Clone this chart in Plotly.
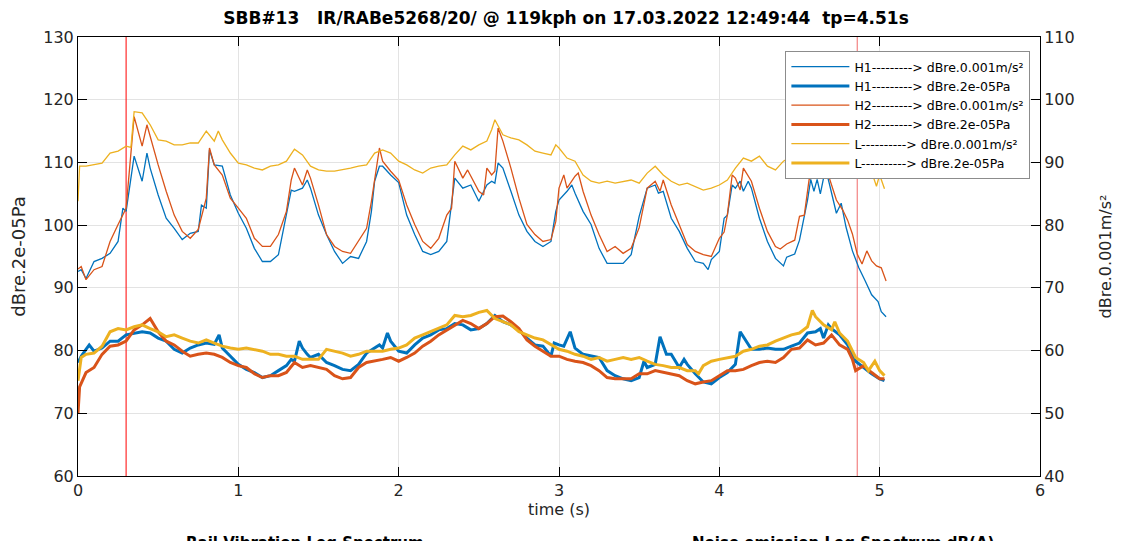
import plotly.graph_objects as go

# time (s) and levels
# thin lines -> right axis (dBre.0.001m/s²), thick lines -> left axis (dBre.2e-05Pa)
t_h1_acc = [0, 0.02, 0.05, 0.1, 0.15, 0.2, 0.25, 0.28, 0.3, 0.35, 0.4, 0.43, 0.45, 0.5, 0.55, 0.6, 0.65, 0.7,
            0.75, 0.77, 0.8, 0.82, 0.85, 0.9, 0.95, 1.0, 1.05, 1.1, 1.15, 1.2, 1.25, 1.3, 1.33, 1.35, 1.4, 1.43,
            1.45, 1.5, 1.55, 1.6, 1.65, 1.7, 1.75, 1.8, 1.83, 1.85, 1.88, 1.9, 1.95, 2.0, 2.05, 2.1, 2.15, 2.2,
            2.25, 2.3, 2.35, 2.4, 2.45, 2.5, 2.55, 2.58, 2.6, 2.62, 2.65, 2.7, 2.75, 2.8, 2.85, 2.9, 2.95, 2.98,
            3.0, 3.05, 3.08, 3.1, 3.15, 3.2, 3.25, 3.3, 3.35, 3.4, 3.45, 3.5, 3.55, 3.6, 3.62, 3.65, 3.7, 3.75,
            3.8, 3.85, 3.9, 3.93, 3.95, 4.0, 4.03, 4.05, 4.08, 4.1, 4.13, 4.15, 4.18, 4.2, 4.25, 4.3, 4.35, 4.4,
            4.42, 4.47, 4.5, 4.53, 4.55, 4.57, 4.59, 4.61, 4.63, 4.65, 4.67, 4.69, 4.73, 4.76, 4.79, 4.83, 4.87,
            4.91, 4.95, 4.99, 5.01, 5.04]
h1_acc = [72.6, 72.9, 71.5, 74.2, 74.7, 75.5, 77.4, 82.7, 82.2, 91.0, 87.0, 91.5, 89.1, 84.8, 81.1, 79.5, 77.7,
          78.7, 79.0, 83.2, 82.7, 92.0, 89.6, 89.4, 84.8, 81.9, 79.5, 76.3, 74.2, 74.2, 75.3, 81.6, 85.6, 85.4,
          85.9, 87.2, 85.9, 81.6, 78.5, 75.8, 73.9, 75.0, 74.7, 77.4, 82.2, 87.0, 89.4, 89.4, 88.0, 86.8, 81.6,
          78.5, 75.8, 75.3, 75.8, 77.4, 87.5, 85.9, 86.4, 83.8, 86.4, 87.0, 86.7, 89.9, 89.1, 85.4, 81.6, 79.0,
          77.4, 76.6, 77.4, 82.2, 84.0, 85.4, 86.4, 85.1, 82.2, 80.1, 76.3, 73.9, 73.9, 73.9, 75.3, 81.4, 85.9,
          86.4, 85.1, 85.4, 81.1, 79.0, 76.3, 74.2, 73.9, 72.9, 74.5, 75.8, 81.1, 81.6, 86.4, 85.9, 87.0, 85.4,
          87.0, 85.9, 81.1, 77.4, 74.7, 73.5, 74.9, 75.4, 77.6, 81.4, 84.0, 87.3, 85.4, 87.3, 85.0, 87.5, 88.3,
          86.2, 81.9, 83.5, 79.7, 75.9, 73.2, 71.1, 68.9, 67.8, 66.2, 65.4]

t_h1_pa = [0, 0.02, 0.05, 0.07, 0.1, 0.15, 0.2, 0.25, 0.3, 0.35, 0.4, 0.45, 0.5, 0.55, 0.6, 0.65, 0.7, 0.75,
           0.8, 0.85, 0.88, 0.9, 0.95, 1.0, 1.05, 1.1, 1.15, 1.2, 1.25, 1.3, 1.33, 1.35, 1.38, 1.4, 1.43, 1.45,
           1.5, 1.55, 1.6, 1.65, 1.7, 1.75, 1.8, 1.85, 1.88, 1.9, 1.93, 1.95, 2.0, 2.05, 2.1, 2.15, 2.2, 2.25,
           2.3, 2.35, 2.4, 2.45, 2.5, 2.55, 2.6, 2.65, 2.7, 2.75, 2.8, 2.85, 2.9, 2.95, 2.97, 3.0, 3.03, 3.07,
           3.1, 3.15, 3.2, 3.25, 3.3, 3.35, 3.4, 3.45, 3.5, 3.53, 3.55, 3.6, 3.63, 3.67, 3.7, 3.75, 3.78, 3.8,
           3.85, 3.9, 3.95, 4.0, 4.05, 4.1, 4.13, 4.17, 4.2, 4.25, 4.3, 4.35, 4.4, 4.45, 4.5, 4.55, 4.6, 4.63,
           4.65, 4.68, 4.7, 4.75, 4.8, 4.85, 4.9, 4.95, 5.0, 5.03]
h1_pa = [78.1, 79.1, 80.2, 80.9, 79.9, 80.4, 81.5, 81.5, 82.5, 82.8, 83.0, 82.8, 82.0, 81.5, 80.2, 79.6, 80.4,
         80.9, 81.2, 81.0, 82.5, 80.4, 79.1, 77.8, 77.0, 76.5, 75.7, 76.0, 76.8, 77.6, 78.6, 78.3, 81.5, 80.4,
         79.4, 78.9, 79.4, 78.1, 77.6, 77.0, 76.8, 77.8, 79.6, 80.4, 80.9, 80.4, 82.8, 81.5, 79.9, 79.6, 80.9,
         82.0, 82.5, 83.3, 83.5, 84.3, 84.1, 83.3, 83.5, 84.3, 85.6, 84.6, 84.1, 83.3, 82.0, 80.9, 80.7, 79.1,
         81.2, 80.9, 80.7, 83.0, 80.4, 79.4, 79.1, 78.9, 76.8, 76.0, 75.5, 75.2, 75.7, 78.3, 77.3, 77.8, 82.2,
         79.4, 79.4, 77.3, 78.6, 77.8, 76.3, 75.0, 74.7, 75.7, 76.5, 77.8, 83.0, 81.5, 80.2, 80.2, 80.4, 80.2,
         80.2, 80.7, 81.2, 82.8, 83.0, 83.5, 82.0, 84.1, 83.5, 82.5, 80.9, 78.3, 77.3, 76.3, 75.5, 75.2]

t_h2_acc = [0, 0.02, 0.05, 0.1, 0.15, 0.2, 0.25, 0.3, 0.35, 0.4, 0.43, 0.45, 0.5, 0.55, 0.6, 0.65, 0.7, 0.75,
            0.8, 0.82, 0.85, 0.9, 0.95, 1.0, 1.05, 1.1, 1.15, 1.2, 1.25, 1.3, 1.33, 1.35, 1.4, 1.43, 1.45, 1.5,
            1.55, 1.6, 1.65, 1.7, 1.75, 1.8, 1.83, 1.85, 1.88, 1.9, 1.95, 2.0, 2.05, 2.1, 2.15, 2.2, 2.25, 2.3,
            2.33, 2.35, 2.4, 2.43, 2.45, 2.5, 2.53, 2.55, 2.58, 2.6, 2.62, 2.65, 2.7, 2.75, 2.8, 2.85, 2.9, 2.95,
            2.98, 3.0, 3.03, 3.05, 3.1, 3.12, 3.15, 3.2, 3.25, 3.3, 3.35, 3.4, 3.45, 3.5, 3.55, 3.6, 3.63, 3.65,
            3.7, 3.75, 3.8, 3.85, 3.9, 3.95, 4.0, 4.03, 4.05, 4.08, 4.1, 4.13, 4.15, 4.2, 4.25, 4.3, 4.35, 4.38,
            4.42, 4.47, 4.5, 4.53, 4.56, 4.6, 4.63, 4.67, 4.7, 4.73, 4.77, 4.8, 4.83, 4.86, 4.89, 4.92, 4.95,
            4.98, 5.01, 5.04]
h2_acc = [73.0, 73.4, 71.3, 72.9, 73.4, 77.4, 80.1, 82.7, 97.3, 92.6, 96.0, 94.1, 89.6, 85.4, 81.6, 79.0, 77.9,
          79.3, 84.3, 92.3, 89.6, 88.0, 84.3, 82.7, 81.1, 77.9, 76.6, 76.6, 78.5, 82.2, 87.2, 89.1, 86.4, 88.8,
          87.5, 83.2, 78.5, 76.6, 75.8, 75.5, 77.4, 79.5, 83.8, 87.0, 92.3, 90.2, 88.6, 87.2, 83.2, 80.1, 77.4,
          76.3, 77.9, 81.6, 82.7, 90.2, 87.5, 88.8, 87.8, 85.4, 84.8, 89.1, 88.0, 88.6, 95.5, 93.4, 89.1, 84.3,
          80.1, 78.5, 77.4, 77.7, 80.6, 85.9, 88.0, 85.9, 87.8, 88.3, 85.4, 81.6, 78.5, 75.8, 76.6, 75.5, 76.3,
          79.6, 85.9, 87.0, 85.4, 87.2, 83.2, 80.1, 76.9, 75.8, 75.3, 75.0, 77.9, 78.9, 81.6, 88.0, 87.5, 85.6,
          89.1, 87.0, 82.7, 79.0, 76.6, 76.2, 77.0, 77.6, 81.4, 81.6, 87.3, 88.0, 89.0, 88.8, 86.2, 84.0, 82.4,
          80.8, 78.6, 75.4, 73.8, 75.9, 74.3, 73.5, 73.2, 71.1]

t_h2_pa = [0, 0.01, 0.05, 0.1, 0.15, 0.2, 0.25, 0.3, 0.35, 0.4, 0.45, 0.5, 0.55, 0.6, 0.65, 0.7, 0.75, 0.8,
           0.85, 0.9, 0.95, 1.0, 1.05, 1.1, 1.15, 1.2, 1.25, 1.3, 1.35, 1.4, 1.45, 1.5, 1.55, 1.6, 1.65, 1.7,
           1.75, 1.8, 1.85, 1.9, 1.95, 2.0, 2.05, 2.1, 2.15, 2.2, 2.25, 2.3, 2.35, 2.4, 2.45, 2.5, 2.55, 2.6,
           2.65, 2.7, 2.75, 2.8, 2.85, 2.9, 2.95, 3.0, 3.05, 3.1, 3.15, 3.2, 3.25, 3.3, 3.35, 3.4, 3.45, 3.5,
           3.55, 3.6, 3.65, 3.7, 3.75, 3.8, 3.85, 3.9, 3.95, 4.0, 4.05, 4.1, 4.15, 4.2, 4.25, 4.3, 4.35, 4.4,
           4.45, 4.5, 4.55, 4.6, 4.65, 4.7, 4.75, 4.8, 4.83, 4.85, 4.9, 4.95, 5.0, 5.03]
h2_pa = [70.0, 74.2, 76.5, 77.3, 79.4, 80.7, 80.9, 81.5, 83.3, 84.1, 85.1, 83.0, 81.5, 80.9, 79.9, 79.1, 79.4,
         79.6, 79.4, 78.9, 78.1, 77.6, 77.3, 76.3, 75.7, 76.0, 76.0, 76.5, 78.1, 77.3, 77.6, 77.3, 77.0, 76.0,
         75.5, 75.7, 77.3, 78.1, 78.3, 78.6, 78.9, 78.3, 78.9, 79.6, 80.7, 81.5, 82.5, 83.3, 84.1, 84.8, 84.3,
         83.5, 84.3, 85.4, 85.5, 84.6, 83.5, 81.7, 80.7, 79.9, 79.1, 79.1, 78.6, 78.3, 78.1, 77.6, 76.8, 75.7,
         75.5, 75.5, 75.5, 76.3, 76.3, 76.8, 76.5, 76.3, 76.0, 75.2, 74.7, 75.0, 75.2, 76.0, 76.8, 76.8, 77.0,
         77.6, 78.1, 78.3, 78.1, 78.9, 80.2, 80.4, 81.7, 80.9, 81.2, 82.5, 80.9, 80.2, 78.6, 76.8, 77.6, 76.5,
         75.5, 75.5]

t_l_acc = [0, 0.01, 0.05, 0.1, 0.15, 0.2, 0.25, 0.3, 0.33, 0.35, 0.4, 0.45, 0.5, 0.55, 0.6, 0.65, 0.7, 0.75,
           0.8, 0.85, 0.875, 0.9, 0.95, 1.0, 1.05, 1.1, 1.15, 1.2, 1.25, 1.3, 1.35, 1.4, 1.45, 1.5, 1.55, 1.6,
           1.65, 1.7, 1.75, 1.8, 1.85, 1.9, 1.95, 2.0, 2.05, 2.1, 2.15, 2.2, 2.25, 2.3, 2.35, 2.4, 2.45, 2.5,
           2.55, 2.58, 2.6, 2.65, 2.7, 2.75, 2.8, 2.85, 2.9, 2.95, 2.98, 3.0, 3.05, 3.1, 3.15, 3.2, 3.25, 3.3,
           3.35, 3.4, 3.45, 3.5, 3.55, 3.6, 3.65, 3.7, 3.75, 3.8, 3.85, 3.9, 3.95, 4.0, 4.05, 4.1, 4.15, 4.2,
           4.25, 4.3, 4.35, 4.4, 4.45, 4.5, 4.55, 4.6, 4.65, 4.7, 4.75, 4.8, 4.85, 4.9, 4.93, 4.95, 4.98, 5.0,
           5.03]
l_acc = [83.8, 89.4, 89.4, 89.6, 89.9, 91.5, 91.8, 92.6, 92.4, 98.1, 97.9, 96.0, 93.6, 93.4, 92.8, 92.8, 93.1,
         93.1, 95.0, 93.4, 95.0, 93.6, 91.5, 89.9, 89.6, 89.1, 88.8, 89.4, 89.6, 90.2, 92.1, 91.2, 89.4, 88.8,
         88.6, 88.6, 88.8, 89.1, 89.4, 89.6, 91.5, 92.0, 91.5, 90.2, 89.6, 88.8, 88.3, 89.1, 89.4, 89.6, 91.2,
         92.6, 92.0, 92.8, 93.4, 95.2, 96.8, 94.4, 93.9, 93.6, 92.8, 91.8, 91.5, 91.2, 92.8, 92.3, 90.7, 90.2,
         88.0, 87.0, 86.7, 87.0, 86.7, 87.0, 87.2, 86.7, 88.3, 89.4, 88.0, 87.0, 86.4, 86.7, 86.2, 85.6, 85.9,
         86.4, 87.2, 89.1, 90.7, 90.2, 91.0, 89.4, 88.8, 90.2, 91.0, 90.5, 91.5, 90.8, 91.5, 91.0, 90.5, 90.8,
         90.5, 89.5, 87.5, 88.5, 86.2, 88.0, 85.8]

t_l_pa = [0, 0.02, 0.05, 0.1, 0.15, 0.2, 0.25, 0.3, 0.35, 0.4, 0.45, 0.5, 0.55, 0.6, 0.65, 0.7, 0.75, 0.8,
          0.85, 0.9, 0.95, 1.0, 1.05, 1.1, 1.15, 1.2, 1.25, 1.3, 1.35, 1.4, 1.45, 1.5, 1.55, 1.6, 1.65, 1.7,
          1.75, 1.8, 1.85, 1.9, 1.95, 2.0, 2.05, 2.1, 2.15, 2.2, 2.25, 2.3, 2.35, 2.4, 2.45, 2.5, 2.55, 2.6,
          2.65, 2.7, 2.75, 2.8, 2.85, 2.9, 2.95, 3.0, 3.05, 3.1, 3.15, 3.2, 3.25, 3.3, 3.35, 3.4, 3.45, 3.5,
          3.55, 3.6, 3.65, 3.7, 3.75, 3.8, 3.85, 3.87, 3.9, 3.95, 4.0, 4.05, 4.1, 4.15, 4.2, 4.25, 4.3, 4.35,
          4.4, 4.45, 4.5, 4.55, 4.58, 4.6, 4.65, 4.7, 4.72, 4.75, 4.8, 4.85, 4.9, 4.93, 4.97, 5.0, 5.03]
l_pa = [75.2, 78.9, 79.4, 79.6, 80.7, 83.0, 83.5, 83.3, 83.8, 84.1, 83.5, 83.0, 82.2, 82.5, 82.0, 81.5, 81.2,
        81.7, 81.2, 80.7, 80.4, 80.2, 80.4, 80.2, 79.9, 79.4, 79.4, 79.1, 79.1, 78.6, 78.6, 78.6, 80.2, 79.9,
        79.6, 79.1, 79.4, 79.9, 79.9, 79.9, 80.2, 80.4, 80.9, 82.0, 82.5, 83.0, 83.5, 84.1, 85.6, 85.4, 85.6,
        86.1, 86.4, 85.1, 84.6, 84.1, 83.0, 82.5, 82.0, 81.7, 80.9, 80.2, 79.9, 79.4, 79.1, 78.6, 78.9, 78.3,
        78.6, 78.9, 78.6, 78.9, 78.3, 77.8, 77.6, 77.3, 77.3, 76.8, 76.8, 76.3, 77.6, 78.3, 78.6, 78.9, 79.1,
        79.9, 80.2, 80.7, 80.9, 81.5, 82.0, 82.5, 82.8, 83.8, 86.4, 85.4, 84.1, 83.3, 84.6, 82.8, 81.5, 78.9,
        78.1, 76.8, 78.3, 76.8, 76.0]

markers_t = [0.30, 4.86]
marker_colors = ["#ff0000", "#f06a6a"]

x_ticks = [0, 1, 2, 3, 4, 5, 6]
left_ticks = [60, 70, 80, 90, 100, 110, 120, 130]
right_ticks = [40, 50, 60, 70, 80, 90, 100, 110]

BLUE = "#0072bd"
ORANGE = "#d95319"
YELLOW = "#edb120"
FONT = "DejaVu Sans, Arial, sans-serif"

fig = go.Figure()

for t, color in zip(markers_t, marker_colors):
    fig.add_trace(go.Scatter(x=[t, t], y=[left_ticks[0], left_ticks[-1]], mode="lines",
                             line=dict(color=color, width=1), showlegend=False, hoverinfo="skip"))

series = [
    (t_h1_acc, h1_acc, BLUE, 1.3, "y2", "H1---------> dBre.0.001m/s²"),
    (t_h1_pa, h1_pa, BLUE, 3, "y", "H1---------> dBre.2e-05Pa"),
    (t_h2_acc, h2_acc, ORANGE, 1.3, "y2", "H2---------> dBre.0.001m/s²"),
    (t_h2_pa, h2_pa, ORANGE, 3, "y", "H2---------> dBre.2e-05Pa"),
    (t_l_acc, l_acc, YELLOW, 1.3, "y2", "L----------> dBre.0.001m/s²"),
    (t_l_pa, l_pa, YELLOW, 3, "y", "L----------> dBre.2e-05Pa"),
]
for t, v, color, w, axis, name in series:
    fig.add_trace(go.Scatter(x=t, y=v, mode="lines", name=name, yaxis=axis,
                             line=dict(color=color, width=w)))

axis_common = dict(
    showline=True, linecolor="black", linewidth=1,
    ticks="inside", ticklen=9, tickcolor="black",
    tickfont=dict(family=FONT, size=16, color="#262626"),
    zeroline=False,
)

# the page body adds an 8px offset, so the figure is 8px smaller than the window
fig.update_layout(
    width=1116, height=533,
    margin=dict(l=70, r=84, t=29, b=65),
    paper_bgcolor="white", plot_bgcolor="white",
    font=dict(family=FONT, color="#262626"),
    title=dict(text="<b>SBB#13   IR/RABe5268/20/ @ 119kph on 17.03.2022 12:49:44  tp=4.51s</b>",
               x=0.5, xanchor="center", y=0.982, yanchor="middle",
               font=dict(family=FONT, size=17, color="black")),
    xaxis=dict(range=[0, 6], tickvals=x_ticks, mirror="ticks", showgrid=True, gridcolor="#e3e3e3",
               title=dict(text="time (s)", font=dict(family=FONT, size=16), standoff=4), **axis_common),
    yaxis=dict(range=[60, 130], tickvals=left_ticks, showgrid=True, gridcolor="#e3e3e3",
               title=dict(text="dBre.2e-05Pa", font=dict(family=FONT, size=18), standoff=12), **axis_common),
    yaxis2=dict(range=[40, 110], tickvals=right_ticks, overlaying="y", side="right", showgrid=False,
                title=dict(text="dBre.0.001m/s²", font=dict(family=FONT, size=16), standoff=26), **axis_common),
    legend=dict(x=0.99, y=0.968, xanchor="right", yanchor="top", bgcolor="white",
                bordercolor="#8c8c8c", borderwidth=1, tracegroupgap=0, itemwidth=58,
                font=dict(family=FONT, size=12.5, color="black")),
    showlegend=True,
)

# titles of the subplots underneath, cut off by the window edge
fig.add_annotation(text="<b>Rail Vibration Leq Spectrum</b>", xref="paper", yref="paper",
                   x=0.236, y=-0.127, xanchor="center", yanchor="top", showarrow=False,
                   font=dict(family=FONT, size=15, color="black"))
fig.add_annotation(text="<b>Noise emission Leq Spectrum dB(A)</b>", xref="paper", yref="paper",
                   x=0.795, y=-0.127, xanchor="center", yanchor="top", showarrow=False,
                   font=dict(family=FONT, size=15, color="black"))

fig.write_html("out.html")
